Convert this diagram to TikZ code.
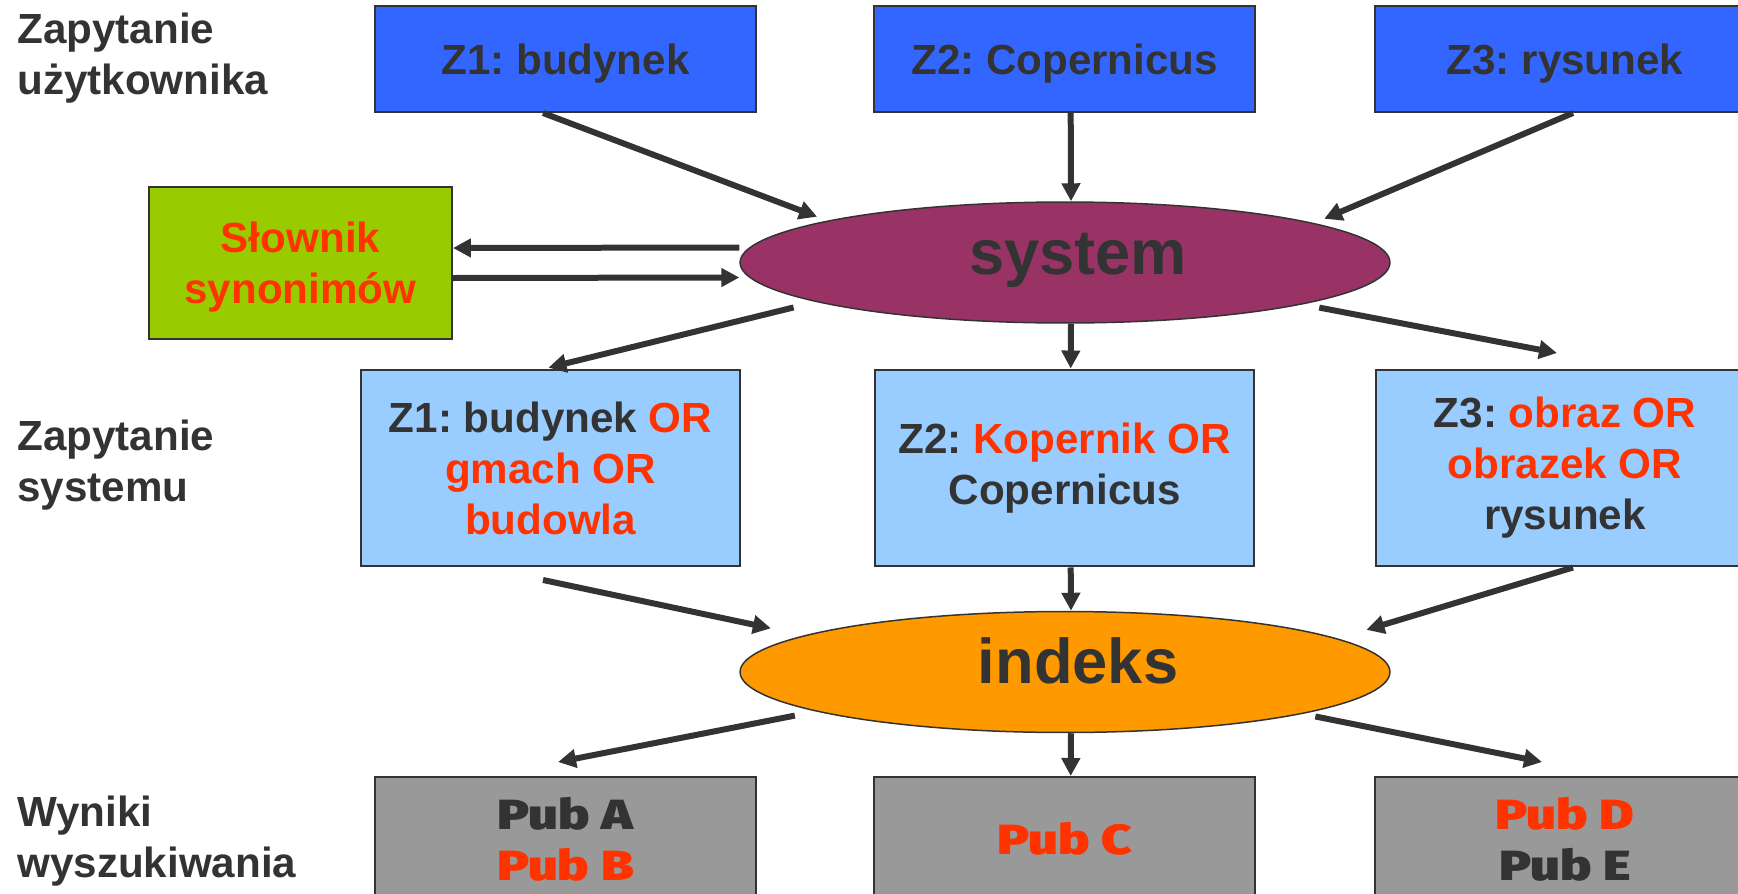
\documentclass[tikz,border=0pt]{standalone}
\usepackage{fontspec}
\setmainfont{Liberation Sans}
\newfontfamily\pubfont{Fira Sans Black}[FakeStretch=1.25]
\usetikzlibrary{shapes.geometric,arrows.meta}
\definecolor{qblue}{HTML}{3366FF}
\definecolor{qlight}{HTML}{99CCFF}
\definecolor{qgreen}{HTML}{99CC00}
\definecolor{qpurple}{HTML}{993366}
\definecolor{qorange}{HTML}{FF9900}
\definecolor{qgray}{HTML}{999999}
\definecolor{qred}{HTML}{FF3300}
\definecolor{qdark}{HTML}{333333}
\frenchspacing
\begin{document}
\begin{tikzpicture}[x=0.02cm, y=-0.02cm,
every node/.style={text=qdark, font=\fontsize{24}{29}\selectfont\bfseries, align=center, inner sep=0pt},
lbl/.style={anchor=north west, align=left},
box/.style={rectangle, draw=qdark, line width=0.04cm, minimum width=7.62cm, minimum height=2.12cm},
userbox/.style={box, fill=qblue, text depth=0pt},
sysbox/.style={box, fill=qlight, minimum width=7.58cm, minimum height=3.94cm},
pubbox/.style={box, fill=qgray, minimum height=2.48cm, font=\pubfont\fontsize{24}{29}\selectfont},
dictbox/.style={box, fill=qgreen, text=qred, text depth=0pt, minimum width=6.06cm, minimum height=3.04cm},
oval/.style={ellipse, draw=qdark, line width=0.03cm, minimum width=13cm, minimum height=2.42cm, text height=0.9cm, text depth=0.44cm, font=\fontsize{36}{43}\selectfont\bfseries},
arr/.style={draw=qdark, line width=0.12cm, -{Triangle[length=0.36cm, width=0.36cm]}}]
\useasboundingbox (0,0) rectangle (1738,893);
\clip (0,0) rectangle (1738,893);
\node[lbl] (lbluser) at (17,13) {Zapytanie\\użytkownika};
\node[lbl] (lblsys) at (17,420) {Zapytanie\\systemu};
\node[lbl] (lblres) at (17,796) {Wyniki\\wyszukiwania};
\node[userbox] (z1user) at (565.5,59) {Z1: budynek};
\node[userbox] (z2user) at (1064.7,59) {Z2: Copernicus};
\node[userbox] (z3user) at (1565,59) {Z3: rysunek};
\node[dictbox] (slownik) at (300.5,263) {Słownik\\synonimów};
\node[oval, fill=qpurple] (system) at (1065,262.5) {\hspace*{0.52cm}system};
\node[sysbox] (z1sys) at (550.5,468) {Z1: budynek \textcolor{qred}{OR}\\\textcolor{qred}{gmach OR}\\\textcolor{qred}{budowla}};
\node[sysbox] (z2sys) at (1064.7,468) {Z2: \textcolor{qred}{Kopernik OR}\\Copernicus};
\node[sysbox] (z3sys) at (1565,468) {Z3: \textcolor{qred}{obraz OR}\\\textcolor{qred}{obrazek OR}\\rysunek};
\node[oval, fill=qorange] (indeks) at (1065,672) {\hspace*{0.52cm}indeks};
\node[pubbox] (pub1) at (565.5,839) {Pub A\\\textcolor{qred}{Pub B}};
\node[pubbox, text=qred] (pub2) at (1064.7,839) {Pub C};
\node[pubbox] (pub3) at (1565,839) {\textcolor{qred}{Pub D}\\Pub E};
\draw[arr, shorten >=0.22cm] ([xshift=-0.45cm]z1user.south) -- (system.170);
\draw[arr] ([xshift=0.12cm]z2user.south) -- ([xshift=0.12cm]system.north);
\draw[arr, shorten >=0.22cm] ([xshift=0.16cm]z3user.south) -- (system.9.5);
\draw[arr] ([yshift=0.3cm]system.west) -- ([yshift=0.3cm]slownik.east);
\draw[arr] ([yshift=-0.3cm]slownik.east) -- ([yshift=-0.3cm]system.west);
\draw[arr, shorten <=0.46cm, shorten >=0.07cm] (system.189.5) -- ([xshift=-0.11cm]z1sys.north);
\draw[arr] ([xshift=0.12cm]system.south) -- ([xshift=0.12cm]z2sys.north);
\draw[arr, shorten <=0.34cm] (system.-10.3) -- ([xshift=-0.16cm,yshift=0.31cm]z3sys.north);
\draw[arr, shorten >=0.68cm] ([xshift=-0.15cm,yshift=-0.25cm]z1sys.south) -- (indeks.172);
\draw[arr] ([xshift=0.12cm]z2sys.south) -- ([xshift=0.12cm]indeks.north);
\draw[arr, shorten >=0.6cm] ([xshift=0.16cm]z3sys.south) -- (indeks.7);
\draw[arr, shorten <=0.43cm] (indeks.189.3) -- ([xshift=-0.15cm,yshift=0.28cm]pub1.north);
\draw[arr] ([xshift=0.12cm]indeks.south) -- ([xshift=0.12cm]pub2.north);
\draw[arr, shorten <=0.26cm] (indeks.-10) -- ([xshift=-0.46cm,yshift=0.28cm]pub3.north);
\end{tikzpicture}
\end{document}
